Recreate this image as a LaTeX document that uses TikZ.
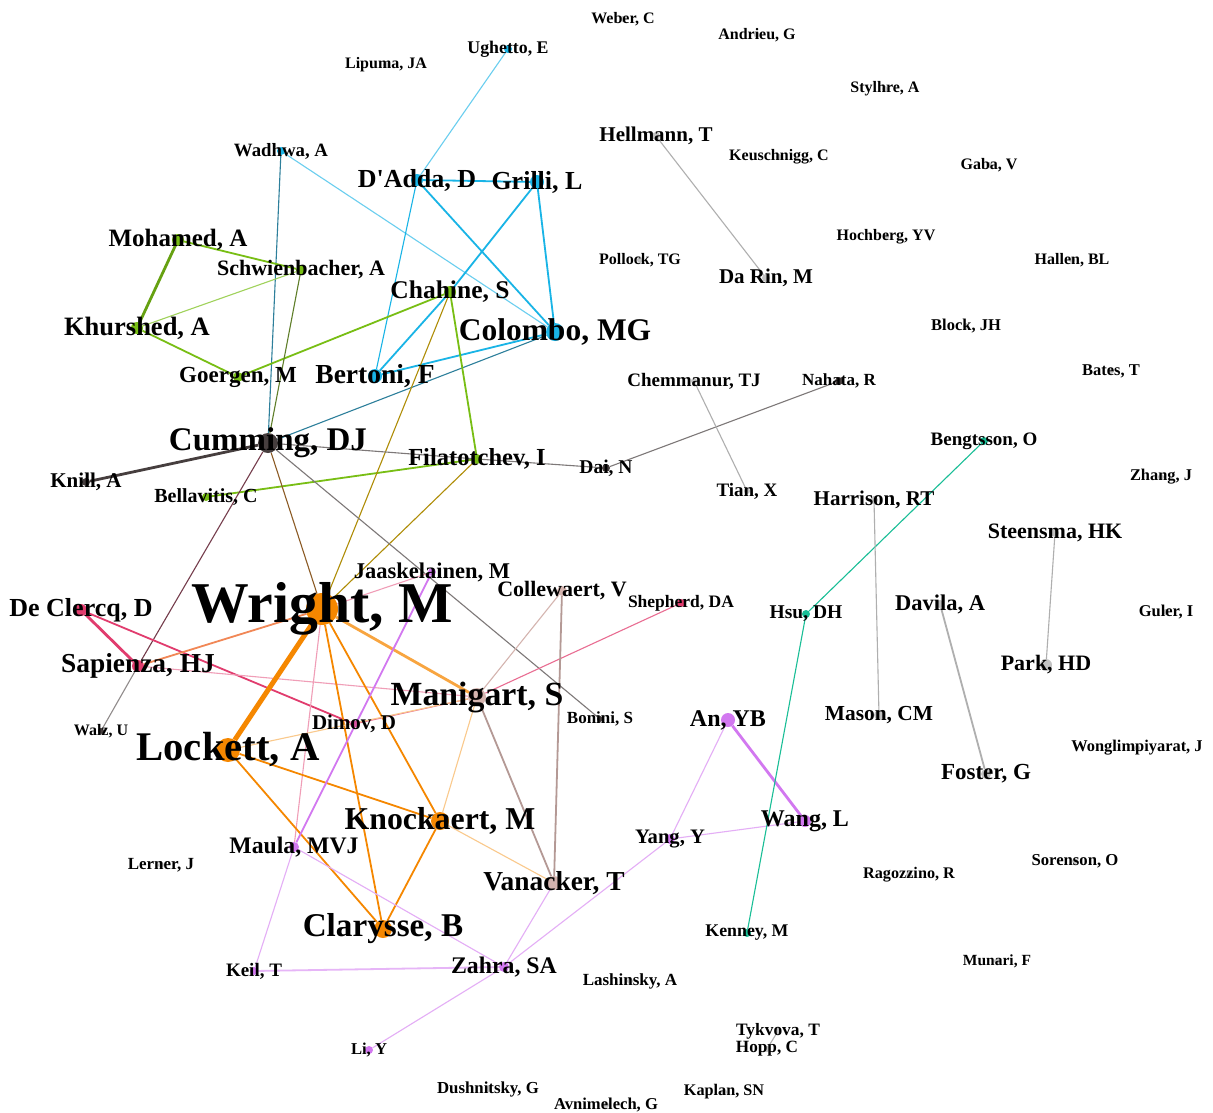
\documentclass[tikz,border=0pt]{standalone}
\usepackage{fontspec}
\setmainfont{Liberation Serif}
\usepackage{tikz}
\usepackage{xcolor}
\usetikzlibrary{backgrounds}
\definecolor{cblue}{RGB}{25,180,230}
\definecolor{cgreen}{RGB}{120,190,20}
\definecolor{corange}{RGB}{245,135,0}
\definecolor{cdark}{RGB}{70,62,62}
\definecolor{cpink}{RGB}{225,60,110}
\definecolor{cpurple}{RGB}{210,120,240}
\definecolor{crose}{RGB}{212,180,175}
\definecolor{cteal}{RGB}{25,190,150}
\definecolor{cgray}{RGB}{195,195,195}
\newcommand{\szf}[1]{\fontsize{#1}{#1}\selectfont\bfseries}

\begin{document}
\begin{tikzpicture}[x=1pt,y=-1pt]%
  \tikzstyle{dot}=[circle,inner sep=0,minimum size=6,fill=cgray]
  \tikzstyle{lb}=[inner sep=0,text=black]
  \tikzstyle{e1}=[line width=1.1]
  \tikzstyle{e2}=[line width=1.8]
  \tikzstyle{e3}=[line width=2.8]
  \useasboundingbox (0,0) rectangle (1213,1112);
  % top and right, loose names
  \node(weber)[dot,label={[lb,font=\szf{16}]center:Weber, C}] at (623,19) {};
  \node(andrieu)[dot,label={[lb,font=\szf{16}]center:Andrieu, G}] at (757,35) {};
  \node(lipuma)[dot,label={[lb,font=\szf{16}]center:Lipuma, JA}] at (386,65) {};
  \node(stylhre)[dot,label={[lb,font=\szf{16}]center:Stylhre, A}] at (885,89) {};
  \node(hellmann)[dot,minimum size=8,label={[lb,font=\szf{21}]center:Hellmann, T}] at (656,136) {};
  \node(keusch)[dot,label={[lb,font=\szf{16}]center:Keuschnigg, C}] at (779,157) {};
  \node(gaba)[dot,label={[lb,font=\szf{16}]center:Gaba, V}] at (989,165) {};
  \node(hochberg)[dot,label={[lb,font=\szf{16}]center:Hochberg, YV}] at (886,237) {};
  \node(hallen)[dot,label={[lb,font=\szf{16}]center:Hallen, BL}] at (1072,260) {};
  \node(pollock)[dot,label={[lb,font=\szf{16}]center:Pollock, TG}] at (640,260) {};
  \node(darin)[dot,minimum size=8,label={[lb,font=\szf{21}]center:Da Rin, M}] at (766,278) {};
  \node(block)[dot,label={[lb,font=\szf{16.5}]center:Block, JH}] at (966,326) {};
  \node(chemmanur)[dot,label={[lb,font=\szf{19}]center:Chemmanur, TJ}] at (694,381) {};
  \node(nahata)[dot,minimum size=8,fill=cdark,label={[lb,font=\szf{17}]center:Nahata, R}] at (839,381) {};
  \node(bates)[dot,label={[lb,font=\szf{16.5}]center:Bates, T}] at (1111,371) {};
  \node(bengtsson)[dot,minimum size=8,fill=cteal,label={[lb,font=\szf{19}]center:Bengtsson, O}] at (984,441) {};
  \node(dai)[dot,minimum size=8,fill=cdark,label={[lb,font=\szf{19.5}]center:Dai, N}] at (606,468) {};
  \node(tian)[dot,label={[lb,font=\szf{19}]center:Tian, X}] at (747,491) {};
  \node(harrison)[dot,minimum size=8,label={[lb,font=\szf{21}]center:Harrison, RT}] at (874,500) {};
  \node(zhang)[dot,label={[lb,font=\szf{16.4}]center:Zhang, J}] at (1161,477) {};
  \node(steensma)[dot,minimum size=8,label={[lb,font=\szf{22}]center:Steensma, HK}] at (1055,533) {};
  \node(shepherd)[dot,minimum size=8,fill=cpink,label={[lb,font=\szf{17.5}]center:Shepherd, DA}] at (681,603) {};
  \node(hsu)[dot,minimum size=8,fill=cteal,label={[lb,font=\szf{19.5}]center:Hsu, DH}] at (806,614) {};
  \node(davila)[dot,minimum size=8,label={[lb,font=\szf{22.5}]center:Davila, A}] at (940,604) {};
  \node(guler)[dot,label={[lb,font=\szf{16.5}]center:Guler, I}] at (1166,612) {};
  \node(park)[dot,minimum size=12,label={[lb,font=\szf{22}]center:Park, HD}] at (1046,665) {};
  \node(mason)[dot,minimum size=10,label={[lb,font=\szf{21.4}]center:Mason, CM}] at (879,715) {};
  \node(wong)[dot,label={[lb,font=\szf{16.4}]center:Wonglimpiyarat, J}] at (1137,748) {};
  \node(foster)[dot,minimum size=10,label={[lb,font=\szf{23}]center:Foster, G}] at (986,774) {};
  \node(ragozzino)[dot,label={[lb,font=\szf{16.2}]center:Ragozzino, R}] at (909,875) {};
  \node(sorenson)[dot,label={[lb,font=\szf{16.7}]center:Sorenson, O}] at (1075,861) {};
  \node(kenney)[dot,minimum size=8,fill=cteal,label={[lb,font=\szf{17.8}]center:Kenney, M}] at (747,933) {};
  \node(munari)[dot,label={[lb,font=\szf{15.5}]center:Munari, F}] at (997,961) {};
  \node(lashinsky)[dot,label={[lb,font=\szf{17}]center:Lashinsky, A}] at (630,981) {};
  \node(tykvova)[dot,label={[lb,font=\szf{17.4}]center:Tykvova, T}] at (778,1031) {};
  \node(hopp)[dot,label={[lb,font=\szf{17.2}]center:Hopp, C}] at (767,1049) {};
  \node(dushnitsky)[dot,label={[lb,font=\szf{16.8}]center:Dushnitsky, G}] at (488,1089) {};
  \node(kaplan)[dot,label={[lb,font=\szf{16.2}]center:Kaplan, SN}] at (724,1092) {};
  \node(avnimelech)[dot,label={[lb,font=\szf{16.6}]center:Avnimelech, G}] at (606,1105) {};
  \node(lerner)[dot,label={[lb,font=\szf{17}]center:Lerner, J}] at (161,865) {};
  % blue and green groups
  \node(ughetto)[dot,minimum size=8,fill=cblue,label={[lb,font=\szf{17.8}]center:Ughetto, E}] at (508,49) {};
  \node(wadhwa)[dot,minimum size=8,fill=cblue,label={[lb,font=\szf{18.8}]center:Wadhwa, A}] at (281,151) {};
  \node(dadda)[dot,minimum size=12,fill=cblue,label={[lb,font=\szf{26}]center:D\textquotesingle Adda, D}] at (417,180) {};
  \node(grilli)[dot,minimum size=14,fill=cblue,label={[lb,font=\szf{26}]center:Grilli, L}] at (537,182) {};
  \node(colombo)[dot,minimum size=18,fill=cblue,label={[lb,font=\szf{31.5}]center:Colombo, MG}] at (555,332) {};
  \node(bertoni)[dot,minimum size=14,fill=cblue,label={[lb,font=\szf{27.5}]center:Bertoni, F}] at (375,376) {};
  \node(mohamed)[dot,minimum size=12,fill=cgreen,label={[lb,font=\szf{25}]center:Mohamed, A}] at (178,240) {};
  \node(schwien)[dot,minimum size=10,fill=cgreen,label={[lb,font=\szf{22}]center:Schwienbacher, A}] at (301,270) {};
  \node(chahine)[dot,minimum size=12,fill=cgreen,label={[lb,font=\szf{25.5}]center:Chahine, S}] at (450,292) {};
  \node(khurshed)[dot,minimum size=12,fill=cgreen,label={[lb,font=\szf{26.5}]center:Khurshed, A}] at (137,328) {};
  \node(goergen)[dot,minimum size=10,fill=cgreen,label={[lb,font=\szf{23}]center:Goergen, M}] at (238,377) {};
  \node(filatotchev)[dot,minimum size=10,fill=cgreen,label={[lb,font=\szf{24.5}]center:Filatotchev, I}] at (477,459) {};
  \node(bellavitis)[dot,minimum size=8,fill=cgreen,label={[lb,font=\szf{20}]center:Bellavitis, C}] at (206,497) {};
  \node(cumming)[dot,minimum size=20,fill=cdark,label={[lb,font=\szf{33}]center:Cumming, DJ}] at (268,443) {};
  \node(knill)[dot,minimum size=8,fill=cdark,label={[lb,font=\szf{21}]center:Knill, A}] at (86,482) {};
  % orange, pink, rose and purple groups
  \node(jaask)[dot,minimum size=8,fill=cpurple,label={[lb,font=\szf{22.5}]center:Jaaskelainen, M}] at (432,572) {};
  \node(collewaert)[dot,minimum size=10,fill=crose,label={[lb,font=\szf{22}]center:Collewaert, V}] at (562,591) {};
  \node(wright)[dot,minimum size=32,fill=corange,label={[lb,font=\szf{57.7}]center:Wright, M}] at (322,609) {};
  \node(declercq)[dot,minimum size=12,fill=cpink,label={[lb,font=\szf{26}]center:De Clercq, D}] at (81,610) {};
  \node(sapienza)[dot,minimum size=12,fill=cpink,label={[lb,font=\szf{27.4}]center:Sapienza, HJ}] at (138,666) {};
  \node(manigart)[dot,minimum size=18,fill=crose,label={[lb,font=\szf{33.8}]center:Manigart, S}] at (477,697) {};
  \node(walz)[dot,minimum size=6,fill=cdark,label={[lb,font=\szf{16}]center:Walz, U}] at (101,731) {};
  \node(dimov)[dot,minimum size=8,fill=cpink!60!cpurple,label={[lb,font=\szf{21}]center:Dimov, D}] at (354,724) {};
  \node(bonini)[dot,minimum size=6,fill=cdark,label={[lb,font=\szf{17}]center:Bonini, S}] at (600,719) {};
  \node(anyb)[dot,minimum size=14,fill=cpurple,label={[lb,font=\szf{24}]center:An, YB}] at (728,720) {};
  \node(lockett)[dot,minimum size=24,fill=corange,label={[lb,font=\szf{40.7}]center:Lockett, A}] at (228,750) {};
  \node(knockaert)[dot,minimum size=18,fill=corange,label={[lb,font=\szf{31.8}]center:Knockaert, M}] at (440,821) {};
  \node(wang)[dot,minimum size=12,fill=cpurple,label={[lb,font=\szf{24}]center:Wang, L}] at (805,821) {};
  \node(yang)[dot,minimum size=10,fill=cpurple,label={[lb,font=\szf{20.6}]center:Yang, Y}] at (670,839) {};
  \node(maula)[dot,minimum size=10,fill=cpurple,label={[lb,font=\szf{23.7}]center:Maula, MVJ}] at (294,847) {};
  \node(vanacker)[dot,minimum size=14,fill=crose,label={[lb,font=\szf{27.4}]center:Vanacker, T}] at (554,883) {};
  \node(clarysse)[dot,minimum size=18,fill=corange,label={[lb,font=\szf{33.2}]center:Clarysse, B}] at (383,929) {};
  \node(keil)[dot,minimum size=8,fill=cpurple,label={[lb,font=\szf{19}]center:Keil, T}] at (254,971) {};
  \node(zahra)[dot,minimum size=10,fill=cpurple,label={[lb,font=\szf{23.8}]center:Zahra, SA}] at (504,967) {};
  \node(liy)[dot,minimum size=8,fill=cpurple,label={[lb,font=\szf{16.6}]center:Li, Y}] at (369,1050) {};
  \begin{pgfonlayer}{background}
    \fill[white] (0,0) rectangle (1213,1112);
    % blue links
    \draw[e1,cblue!65] (ughetto)--(dadda) (wadhwa)--(colombo);
    \draw[e1,cblue!55!cdark] (wadhwa)--(cumming) (colombo)--(cumming);
    \draw[e2,cblue] (dadda)--(grilli) (dadda)--(colombo) (grilli)--(chahine)
      (grilli)--(colombo) (chahine)--(bertoni) (bertoni)--(colombo);
    \draw[e1,cblue] (dadda)--(bertoni);
    % green links
    \draw[e3,cgreen!85!black] (mohamed)--(khurshed);
    \draw[e2,cgreen] (mohamed)--(schwien) (khurshed)--(goergen) (goergen)--(chahine)
      (chahine)--(filatotchev) (filatotchev)--(bellavitis);
    \draw[e1,cgreen!70] (khurshed)--(schwien);
    \draw[e1,cgreen!50!cdark] (schwien)--(cumming);
    \draw[e1,cgreen!40!corange!90!black] (chahine)--(wright) (filatotchev)--(wright);
    % dark links
    \draw[e3,cdark] (cumming)--(knill);
    \draw[e1,cdark!70] (cumming)--(filatotchev) (filatotchev)--(dai) (dai)--(nahata) (cumming)--(bonini);
    \draw[e1,cdark!60!corange] (cumming)--(wright);
    \draw[e1,cdark!70!cpink] (cumming)--(sapienza);
    \draw[e1,cdark!60] (sapienza)--(walz);
    % pink links
    \draw[e3,cpink] (declercq)--(sapienza);
    \draw[e2,cpink] (declercq)--(dimov);
    \draw[e1,cpink!50] (sapienza)--(manigart) (wright)--(jaask) (wright)--(maula);
    \draw[e1,cpink!75] (dimov)--(manigart) (manigart)--(shepherd);
    \draw[e2,cpink!40!corange!80] (wright)--(sapienza);
    % orange links
    \draw[line width=5,corange] (wright)--(lockett);
    \draw[e2,corange] (wright)--(knockaert) (wright)--(clarysse) (lockett)--(knockaert)
      (lockett)--(clarysse) (knockaert)--(clarysse);
    \draw[e3,corange!75] (wright)--(manigart);
    \draw[e1,corange!45] (lockett)--(manigart) (knockaert)--(manigart) (knockaert)--(vanacker);
    % rose links
    \draw[e2,crose!85!black] (manigart)--(vanacker) (collewaert)--(vanacker);
    \draw[e1,crose] (collewaert)--(manigart);
    % purple links
    \draw[e2,cpurple] (jaask)--(maula);
    \draw[e3,cpurple] (anyb)--(wang);
    \draw[e1,cpurple!60] (maula)--(keil) (maula)--(zahra) (zahra)--(liy) (zahra)--(yang)
      (yang)--(anyb) (yang)--(wang) (zahra)--(vanacker);
    \draw[e2,cpurple!55] (keil)--(zahra);
    % teal and gray links
    \draw[e1,cteal] (bengtsson)--(hsu) (hsu)--(kenney);
    \draw[e1,cgray!90!black] (harrison)--(mason) (steensma)--(park) (chemmanur)--(tian)
      (hellmann)--(darin) (tykvova)--(hopp);
    \draw[e2,cgray!90!black] (davila)--(foster);
  \end{pgfonlayer}
\end{tikzpicture}
\end{document}
